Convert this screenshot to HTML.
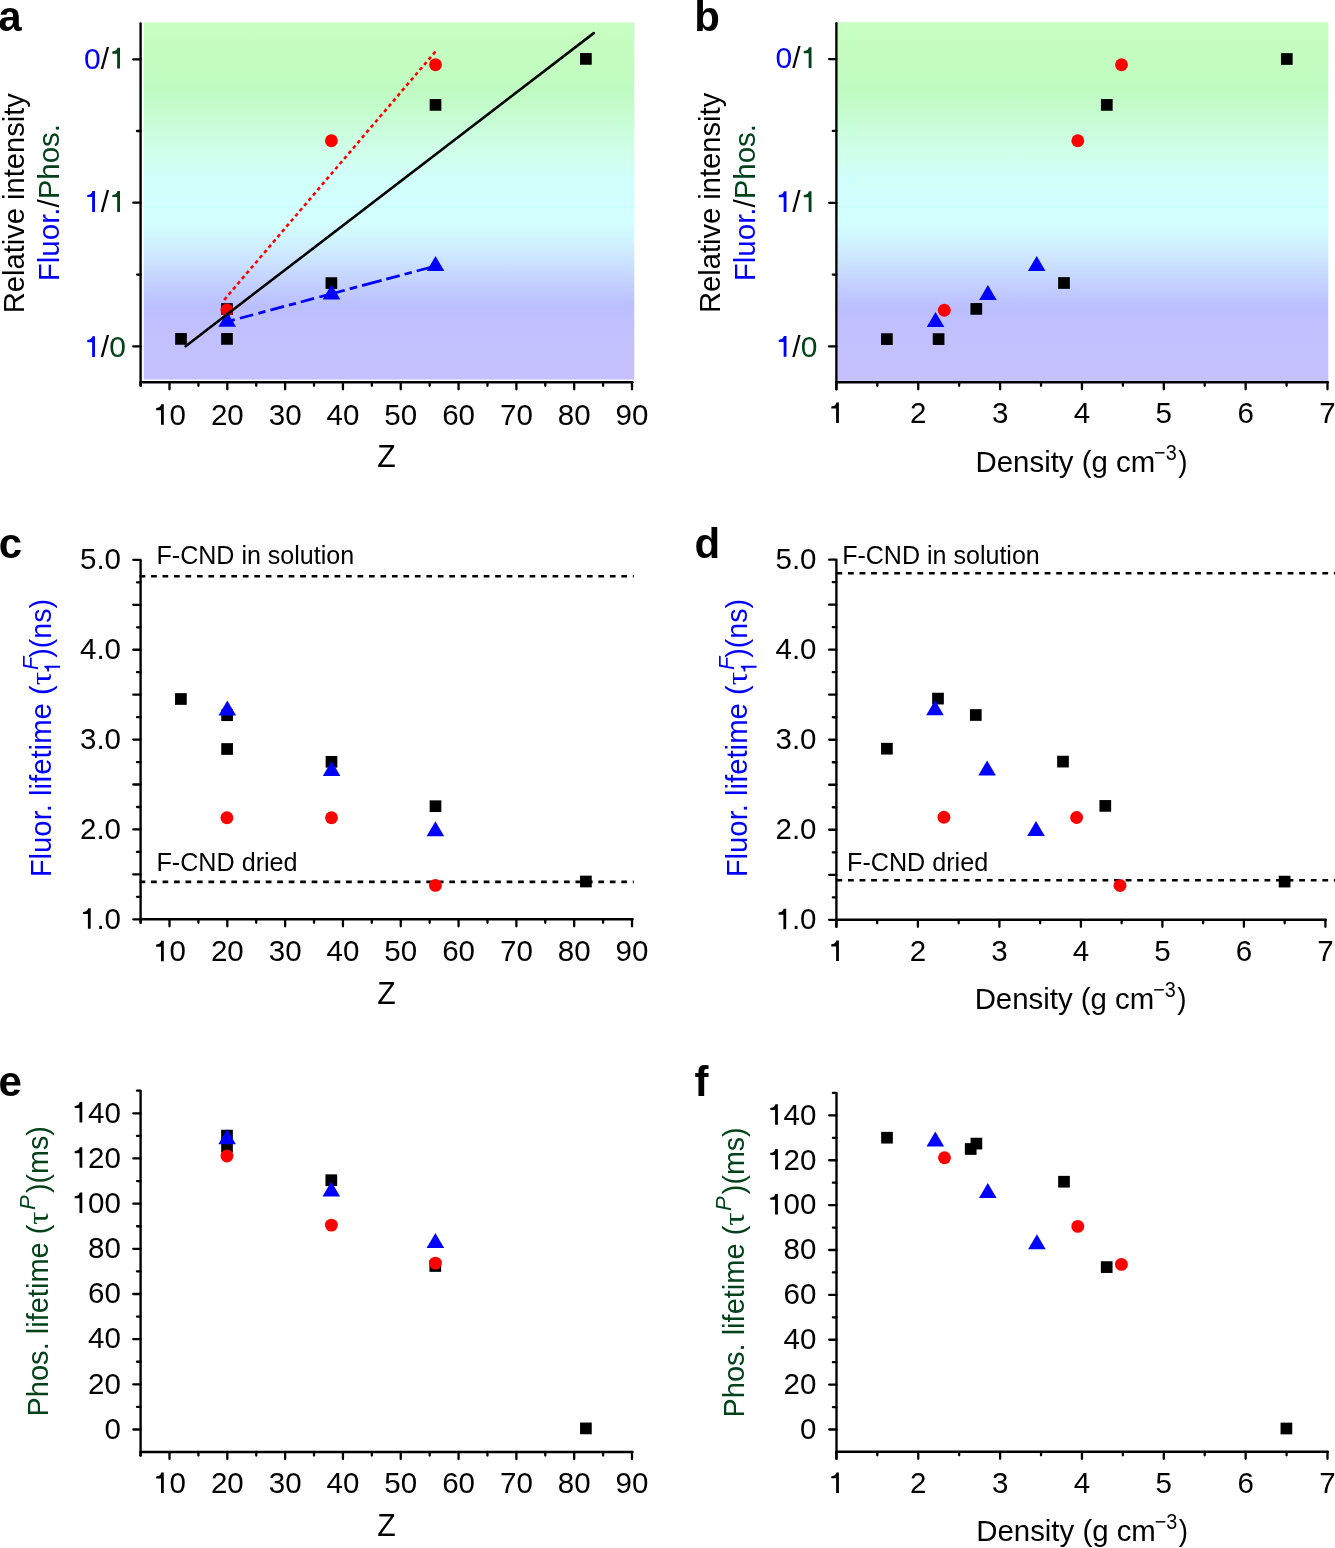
<!DOCTYPE html>
<html><head><meta charset="utf-8"><title>Figure</title><style>
html,body{margin:0;padding:0;background:#fff;width:1335px;height:1548px;overflow:hidden;}
svg{display:block;will-change:transform;}
</style></head><body>
<svg width="1335" height="1548" viewBox="0 0 1335 1548" style="font-family:'Liberation Sans', sans-serif">
<rect width="1335" height="1548" fill="#fff"/>
<defs><linearGradient id="g" x1="0" y1="0" x2="0" y2="1"><stop offset="0.0000" stop-color="#c8fec2"/>
<stop offset="0.0941" stop-color="#c4fdc0"/>
<stop offset="0.1892" stop-color="#bffbc1"/>
<stop offset="0.2396" stop-color="#c4fccc"/>
<stop offset="0.3124" stop-color="#cbfedf"/>
<stop offset="0.3572" stop-color="#d0ffe9"/>
<stop offset="0.4244" stop-color="#d1fff8"/>
<stop offset="0.5140" stop-color="#d2ffff"/>
<stop offset="0.5588" stop-color="#d4ffff"/>
<stop offset="0.6092" stop-color="#d0f4ff"/>
<stop offset="0.6652" stop-color="#cce4ff"/>
<stop offset="0.7352" stop-color="#c3cfff"/>
<stop offset="0.7940" stop-color="#bbbffe"/>
<stop offset="0.8611" stop-color="#c2c0fe"/>
<stop offset="1.0000" stop-color="#c5c1fe"/></linearGradient></defs>
<rect x="143.7" y="22.4" width="490.6" height="357.2" fill="url(#g)"/>
<rect x="837.6" y="22.2" width="490.7" height="358.7" fill="url(#g)"/>
<rect x="143.7" y="205.9" width="490.6" height="1.9" fill="#c9fdfb"/>
<rect x="837.6" y="205.9" width="490.7" height="1.9" fill="#c9fdfb"/>
<line x1="140.60" y1="23.50" x2="140.60" y2="385.80" stroke="#000" stroke-width="2.4" stroke-linecap="round"/>
<line x1="140.60" y1="382.30" x2="632.50" y2="382.30" stroke="#000" stroke-width="2.4" stroke-linecap="round"/>
<line x1="133.30" y1="59.30" x2="140.60" y2="59.30" stroke="#000" stroke-width="2.3" stroke-linecap="round"/>
<line x1="133.30" y1="202.70" x2="140.60" y2="202.70" stroke="#000" stroke-width="2.3" stroke-linecap="round"/>
<line x1="133.30" y1="346.40" x2="140.60" y2="346.40" stroke="#000" stroke-width="2.3" stroke-linecap="round"/>
<line x1="137.00" y1="131.00" x2="140.60" y2="131.00" stroke="#000" stroke-width="2.3" stroke-linecap="round"/>
<line x1="137.00" y1="274.60" x2="140.60" y2="274.60" stroke="#000" stroke-width="2.3" stroke-linecap="round"/>
<line x1="169.50" y1="382.30" x2="169.50" y2="389.30" stroke="#000" stroke-width="2.3" stroke-linecap="round"/>
<line x1="227.31" y1="382.30" x2="227.31" y2="389.30" stroke="#000" stroke-width="2.3" stroke-linecap="round"/>
<line x1="285.12" y1="382.30" x2="285.12" y2="389.30" stroke="#000" stroke-width="2.3" stroke-linecap="round"/>
<line x1="342.94" y1="382.30" x2="342.94" y2="389.30" stroke="#000" stroke-width="2.3" stroke-linecap="round"/>
<line x1="400.75" y1="382.30" x2="400.75" y2="389.30" stroke="#000" stroke-width="2.3" stroke-linecap="round"/>
<line x1="458.56" y1="382.30" x2="458.56" y2="389.30" stroke="#000" stroke-width="2.3" stroke-linecap="round"/>
<line x1="516.38" y1="382.30" x2="516.38" y2="389.30" stroke="#000" stroke-width="2.3" stroke-linecap="round"/>
<line x1="574.19" y1="382.30" x2="574.19" y2="389.30" stroke="#000" stroke-width="2.3" stroke-linecap="round"/>
<line x1="632.00" y1="382.30" x2="632.00" y2="389.30" stroke="#000" stroke-width="2.3" stroke-linecap="round"/>
<line x1="140.59" y1="382.30" x2="140.59" y2="385.80" stroke="#000" stroke-width="2.3" stroke-linecap="round"/>
<line x1="198.41" y1="382.30" x2="198.41" y2="385.80" stroke="#000" stroke-width="2.3" stroke-linecap="round"/>
<line x1="256.22" y1="382.30" x2="256.22" y2="385.80" stroke="#000" stroke-width="2.3" stroke-linecap="round"/>
<line x1="314.03" y1="382.30" x2="314.03" y2="385.80" stroke="#000" stroke-width="2.3" stroke-linecap="round"/>
<line x1="371.84" y1="382.30" x2="371.84" y2="385.80" stroke="#000" stroke-width="2.3" stroke-linecap="round"/>
<line x1="429.66" y1="382.30" x2="429.66" y2="385.80" stroke="#000" stroke-width="2.3" stroke-linecap="round"/>
<line x1="487.47" y1="382.30" x2="487.47" y2="385.80" stroke="#000" stroke-width="2.3" stroke-linecap="round"/>
<line x1="545.28" y1="382.30" x2="545.28" y2="385.80" stroke="#000" stroke-width="2.3" stroke-linecap="round"/>
<line x1="603.09" y1="382.30" x2="603.09" y2="385.80" stroke="#000" stroke-width="2.3" stroke-linecap="round"/>
<text x="153.09" y="424.80" font-size="29.5"><tspan fill="#000">&#8199;</tspan><tspan fill="#000">0</tspan></text>
<path d="M363 0 L268 0 L268 495 L105 495 L105 566 C170 570 215 585 245 625 C262 648 272 672 276 695 L363 695 Z" transform="translate(153.09,424.80) scale(0.02950,-0.02950)" fill="#000"/>
<text x="210.91" y="424.80" font-size="29.5"><tspan fill="#000">2</tspan><tspan fill="#000">0</tspan></text>
<text x="268.72" y="424.80" font-size="29.5"><tspan fill="#000">3</tspan><tspan fill="#000">0</tspan></text>
<text x="326.53" y="424.80" font-size="29.5"><tspan fill="#000">4</tspan><tspan fill="#000">0</tspan></text>
<text x="384.34" y="424.80" font-size="29.5"><tspan fill="#000">5</tspan><tspan fill="#000">0</tspan></text>
<text x="442.16" y="424.80" font-size="29.5"><tspan fill="#000">6</tspan><tspan fill="#000">0</tspan></text>
<text x="499.97" y="424.80" font-size="29.5"><tspan fill="#000">7</tspan><tspan fill="#000">0</tspan></text>
<text x="557.78" y="424.80" font-size="29.5"><tspan fill="#000">8</tspan><tspan fill="#000">0</tspan></text>
<text x="615.59" y="424.80" font-size="29.5"><tspan fill="#000">9</tspan><tspan fill="#000">0</tspan></text>
<text x="377.21" y="466.70" font-size="30.5" fill="#000" font-weight="normal" font-style="normal" font-family="Liberation Sans" textLength="18.47" lengthAdjust="spacingAndGlyphs" >Z</text>
<text x="84.10" y="68.60" font-size="30"><tspan fill="#0000ff">0</tspan><tspan fill="#000">/</tspan><tspan fill="#01421a">&#8199;</tspan></text>
<path d="M363 0 L268 0 L268 495 L105 495 L105 566 C170 570 215 585 245 625 C262 648 272 672 276 695 L363 695 Z" transform="translate(109.12,68.60) scale(0.03000,-0.03000)" fill="#01421a"/>
<text x="84.10" y="211.90" font-size="30"><tspan fill="#0000ff">&#8199;</tspan><tspan fill="#000">/</tspan><tspan fill="#01421a">&#8199;</tspan></text>
<path d="M363 0 L268 0 L268 495 L105 495 L105 566 C170 570 215 585 245 625 C262 648 272 672 276 695 L363 695 Z" transform="translate(84.10,211.90) scale(0.03000,-0.03000)" fill="#0000ff"/>
<path d="M363 0 L268 0 L268 495 L105 495 L105 566 C170 570 215 585 245 625 C262 648 272 672 276 695 L363 695 Z" transform="translate(109.12,211.90) scale(0.03000,-0.03000)" fill="#01421a"/>
<text x="84.10" y="357.00" font-size="30"><tspan fill="#0000ff">&#8199;</tspan><tspan fill="#000">/</tspan><tspan fill="#01421a">0</tspan></text>
<path d="M363 0 L268 0 L268 495 L105 495 L105 566 C170 570 215 585 245 625 C262 648 272 672 276 695 L363 695 Z" transform="translate(84.10,357.00) scale(0.03000,-0.03000)" fill="#0000ff"/>
<text transform="translate(23.90,313.23) rotate(-90)" x="0" y="0" font-size="30" fill="#000" font-weight="normal" font-style="normal" font-family="Liberation Sans" textLength="220.15" lengthAdjust="spacingAndGlyphs" >Relative intensity</text>
<text transform="translate(59.00,281.16) rotate(-90) scale(0.9822,1)" font-size="30"><tspan fill="#0000ff">Fluor.</tspan><tspan fill="#000">/</tspan><tspan fill="#01421a">Phos.</tspan></text>
<line x1="224.20" y1="299.80" x2="435.40" y2="51.60" stroke="#ff0000" stroke-width="2.6" stroke-dasharray="3.6 3.257"/>
<line x1="227.00" y1="321.70" x2="234.70" y2="319.64" stroke="#0000ff" stroke-width="2.8" />
<line x1="239.90" y1="318.25" x2="253.10" y2="314.73" stroke="#0000ff" stroke-width="2.8" />
<line x1="258.40" y1="313.31" x2="265.40" y2="311.44" stroke="#0000ff" stroke-width="2.8" />
<line x1="270.40" y1="310.11" x2="284.00" y2="306.47" stroke="#0000ff" stroke-width="2.8" />
<line x1="288.90" y1="305.16" x2="295.90" y2="303.29" stroke="#0000ff" stroke-width="2.8" />
<line x1="300.80" y1="301.98" x2="314.00" y2="298.46" stroke="#0000ff" stroke-width="2.8" />
<line x1="319.40" y1="297.02" x2="344.70" y2="290.26" stroke="#0000ff" stroke-width="2.8" />
<line x1="349.70" y1="288.92" x2="357.10" y2="286.94" stroke="#0000ff" stroke-width="2.8" />
<line x1="362.00" y1="285.64" x2="381.60" y2="280.40" stroke="#0000ff" stroke-width="2.8" />
<line x1="386.30" y1="279.14" x2="399.70" y2="275.56" stroke="#0000ff" stroke-width="2.8" />
<line x1="404.60" y1="274.25" x2="411.80" y2="272.33" stroke="#0000ff" stroke-width="2.8" />
<line x1="416.70" y1="271.02" x2="435.50" y2="266.00" stroke="#0000ff" stroke-width="2.8" />
<rect x="175.15" y="333.05" width="11.7" height="11.7" fill="#000"/>
<rect x="221.15" y="333.05" width="11.7" height="11.7" fill="#000"/>
<rect x="221.15" y="303.15" width="11.7" height="11.7" fill="#000"/>
<rect x="325.55" y="277.25" width="11.7" height="11.7" fill="#000"/>
<rect x="429.65" y="99.05" width="11.7" height="11.7" fill="#000"/>
<rect x="580.05" y="53.05" width="11.7" height="11.7" fill="#000"/>
<circle cx="226.90" cy="310.00" r="6.45" fill="#ff0000"/>
<circle cx="331.40" cy="140.70" r="6.45" fill="#ff0000"/>
<circle cx="435.50" cy="64.70" r="6.45" fill="#ff0000"/>
<path d="M227.20 311.70 L236.00 326.70 L218.40 326.70 Z" fill="#0000ff"/>
<path d="M331.50 284.50 L340.30 299.50 L322.70 299.50 Z" fill="#0000ff"/>
<path d="M435.50 256.00 L444.30 271.00 L426.70 271.00 Z" fill="#0000ff"/>
<line x1="185.60" y1="346.20" x2="593.80" y2="33.10" stroke="#000" stroke-width="2.6" stroke-linecap="round"/>
<line x1="836.40" y1="23.30" x2="836.40" y2="389.30" stroke="#000" stroke-width="2.4" stroke-linecap="round"/>
<line x1="836.40" y1="382.30" x2="1327.80" y2="382.30" stroke="#000" stroke-width="2.4" stroke-linecap="round"/>
<line x1="829.10" y1="59.10" x2="836.40" y2="59.10" stroke="#000" stroke-width="2.3" stroke-linecap="round"/>
<line x1="829.10" y1="202.80" x2="836.40" y2="202.80" stroke="#000" stroke-width="2.3" stroke-linecap="round"/>
<line x1="829.10" y1="346.40" x2="836.40" y2="346.40" stroke="#000" stroke-width="2.3" stroke-linecap="round"/>
<line x1="832.80" y1="130.90" x2="836.40" y2="130.90" stroke="#000" stroke-width="2.3" stroke-linecap="round"/>
<line x1="832.80" y1="274.60" x2="836.40" y2="274.60" stroke="#000" stroke-width="2.3" stroke-linecap="round"/>
<line x1="836.40" y1="382.30" x2="836.40" y2="389.30" stroke="#000" stroke-width="2.3" stroke-linecap="round"/>
<line x1="918.25" y1="382.30" x2="918.25" y2="389.30" stroke="#000" stroke-width="2.3" stroke-linecap="round"/>
<line x1="1000.10" y1="382.30" x2="1000.10" y2="389.30" stroke="#000" stroke-width="2.3" stroke-linecap="round"/>
<line x1="1081.95" y1="382.30" x2="1081.95" y2="389.30" stroke="#000" stroke-width="2.3" stroke-linecap="round"/>
<line x1="1163.80" y1="382.30" x2="1163.80" y2="389.30" stroke="#000" stroke-width="2.3" stroke-linecap="round"/>
<line x1="1245.65" y1="382.30" x2="1245.65" y2="389.30" stroke="#000" stroke-width="2.3" stroke-linecap="round"/>
<line x1="1327.50" y1="382.30" x2="1327.50" y2="389.30" stroke="#000" stroke-width="2.3" stroke-linecap="round"/>
<line x1="877.32" y1="382.30" x2="877.32" y2="385.80" stroke="#000" stroke-width="2.3" stroke-linecap="round"/>
<line x1="959.17" y1="382.30" x2="959.17" y2="385.80" stroke="#000" stroke-width="2.3" stroke-linecap="round"/>
<line x1="1041.03" y1="382.30" x2="1041.03" y2="385.80" stroke="#000" stroke-width="2.3" stroke-linecap="round"/>
<line x1="1122.88" y1="382.30" x2="1122.88" y2="385.80" stroke="#000" stroke-width="2.3" stroke-linecap="round"/>
<line x1="1204.72" y1="382.30" x2="1204.72" y2="385.80" stroke="#000" stroke-width="2.3" stroke-linecap="round"/>
<line x1="1286.57" y1="382.30" x2="1286.57" y2="385.80" stroke="#000" stroke-width="2.3" stroke-linecap="round"/>
<text x="828.20" y="423.10" font-size="29.5"><tspan fill="#000">&#8199;</tspan></text>
<path d="M363 0 L268 0 L268 495 L105 495 L105 566 C170 570 215 585 245 625 C262 648 272 672 276 695 L363 695 Z" transform="translate(828.20,423.10) scale(0.02950,-0.02950)" fill="#000"/>
<text x="910.05" y="423.10" font-size="29.5"><tspan fill="#000">2</tspan></text>
<text x="991.90" y="423.10" font-size="29.5"><tspan fill="#000">3</tspan></text>
<text x="1073.75" y="423.10" font-size="29.5"><tspan fill="#000">4</tspan></text>
<text x="1155.60" y="423.10" font-size="29.5"><tspan fill="#000">5</tspan></text>
<text x="1237.45" y="423.10" font-size="29.5"><tspan fill="#000">6</tspan></text>
<text x="1319.30" y="423.10" font-size="29.5"><tspan fill="#000">7</tspan></text>
<text x="775.60" y="68.00" font-size="30"><tspan fill="#0000ff">0</tspan><tspan fill="#000">/</tspan><tspan fill="#01421a">&#8199;</tspan></text>
<path d="M363 0 L268 0 L268 495 L105 495 L105 566 C170 570 215 585 245 625 C262 648 272 672 276 695 L363 695 Z" transform="translate(800.62,68.00) scale(0.03000,-0.03000)" fill="#01421a"/>
<text x="775.60" y="212.00" font-size="30"><tspan fill="#0000ff">&#8199;</tspan><tspan fill="#000">/</tspan><tspan fill="#01421a">&#8199;</tspan></text>
<path d="M363 0 L268 0 L268 495 L105 495 L105 566 C170 570 215 585 245 625 C262 648 272 672 276 695 L363 695 Z" transform="translate(775.60,212.00) scale(0.03000,-0.03000)" fill="#0000ff"/>
<path d="M363 0 L268 0 L268 495 L105 495 L105 566 C170 570 215 585 245 625 C262 648 272 672 276 695 L363 695 Z" transform="translate(800.62,212.00) scale(0.03000,-0.03000)" fill="#01421a"/>
<text x="775.60" y="356.80" font-size="30"><tspan fill="#0000ff">&#8199;</tspan><tspan fill="#000">/</tspan><tspan fill="#01421a">0</tspan></text>
<path d="M363 0 L268 0 L268 495 L105 495 L105 566 C170 570 215 585 245 625 C262 648 272 672 276 695 L363 695 Z" transform="translate(775.60,356.80) scale(0.03000,-0.03000)" fill="#0000ff"/>
<text transform="translate(719.90,313.03) rotate(-90)" x="0" y="0" font-size="30" fill="#000" font-weight="normal" font-style="normal" font-family="Liberation Sans" textLength="220.25" lengthAdjust="spacingAndGlyphs" >Relative intensity</text>
<text transform="translate(754.90,281.16) rotate(-90) scale(0.9822,1)" font-size="30"><tspan fill="#0000ff">Fluor.</tspan><tspan fill="#000">/</tspan><tspan fill="#01421a">Phos.</tspan></text>
<text x="975.55" y="472.20" font-size="30" fill="#000" font-weight="normal" font-style="normal" font-family="Liberation Sans" textLength="179.58" lengthAdjust="spacingAndGlyphs" >Density (g cm</text>
<text x="1154.08" y="460.30" font-size="21.5" fill="#000" font-weight="normal" font-style="normal" font-family="Liberation Sans" textLength="22.55" lengthAdjust="spacingAndGlyphs" >−3</text>
<text x="1178.17" y="472.20" font-size="30" fill="#000" font-weight="normal" font-style="normal" font-family="Liberation Sans" textLength="9.28" lengthAdjust="spacingAndGlyphs" >)</text>
<rect x="881.05" y="333.25" width="11.7" height="11.7" fill="#000"/>
<rect x="932.75" y="333.25" width="11.7" height="11.7" fill="#000"/>
<rect x="970.45" y="303.05" width="11.7" height="11.7" fill="#000"/>
<rect x="1058.15" y="277.15" width="11.7" height="11.7" fill="#000"/>
<rect x="1100.95" y="99.05" width="11.7" height="11.7" fill="#000"/>
<rect x="1280.95" y="53.15" width="11.7" height="11.7" fill="#000"/>
<circle cx="944.30" cy="310.20" r="6.45" fill="#ff0000"/>
<circle cx="1077.80" cy="140.80" r="6.45" fill="#ff0000"/>
<circle cx="1121.50" cy="64.70" r="6.45" fill="#ff0000"/>
<path d="M935.50 312.00 L944.30 327.00 L926.70 327.00 Z" fill="#0000ff"/>
<path d="M987.90 284.90 L996.70 299.90 L979.10 299.90 Z" fill="#0000ff"/>
<path d="M1036.70 256.00 L1045.50 271.00 L1027.90 271.00 Z" fill="#0000ff"/>
<line x1="140.60" y1="561.00" x2="140.60" y2="922.80" stroke="#000" stroke-width="2.4" stroke-linecap="round"/>
<line x1="140.60" y1="919.30" x2="632.50" y2="919.30" stroke="#000" stroke-width="2.4" stroke-linecap="round"/>
<line x1="133.30" y1="919.30" x2="140.60" y2="919.30" stroke="#000" stroke-width="2.3" stroke-linecap="round"/>
<line x1="133.30" y1="874.38" x2="140.60" y2="874.38" stroke="#000" stroke-width="2.3" stroke-linecap="round"/>
<line x1="133.30" y1="829.45" x2="140.60" y2="829.45" stroke="#000" stroke-width="2.3" stroke-linecap="round"/>
<line x1="133.30" y1="784.52" x2="140.60" y2="784.52" stroke="#000" stroke-width="2.3" stroke-linecap="round"/>
<line x1="133.30" y1="739.60" x2="140.60" y2="739.60" stroke="#000" stroke-width="2.3" stroke-linecap="round"/>
<line x1="133.30" y1="694.67" x2="140.60" y2="694.67" stroke="#000" stroke-width="2.3" stroke-linecap="round"/>
<line x1="133.30" y1="649.75" x2="140.60" y2="649.75" stroke="#000" stroke-width="2.3" stroke-linecap="round"/>
<line x1="133.30" y1="604.83" x2="140.60" y2="604.83" stroke="#000" stroke-width="2.3" stroke-linecap="round"/>
<line x1="133.30" y1="559.90" x2="140.60" y2="559.90" stroke="#000" stroke-width="2.3" stroke-linecap="round"/>
<line x1="137.00" y1="896.84" x2="140.60" y2="896.84" stroke="#000" stroke-width="2.3" stroke-linecap="round"/>
<line x1="137.00" y1="851.91" x2="140.60" y2="851.91" stroke="#000" stroke-width="2.3" stroke-linecap="round"/>
<line x1="137.00" y1="806.99" x2="140.60" y2="806.99" stroke="#000" stroke-width="2.3" stroke-linecap="round"/>
<line x1="137.00" y1="762.06" x2="140.60" y2="762.06" stroke="#000" stroke-width="2.3" stroke-linecap="round"/>
<line x1="137.00" y1="717.14" x2="140.60" y2="717.14" stroke="#000" stroke-width="2.3" stroke-linecap="round"/>
<line x1="137.00" y1="672.21" x2="140.60" y2="672.21" stroke="#000" stroke-width="2.3" stroke-linecap="round"/>
<line x1="137.00" y1="627.29" x2="140.60" y2="627.29" stroke="#000" stroke-width="2.3" stroke-linecap="round"/>
<line x1="137.00" y1="582.36" x2="140.60" y2="582.36" stroke="#000" stroke-width="2.3" stroke-linecap="round"/>
<line x1="169.50" y1="919.30" x2="169.50" y2="926.30" stroke="#000" stroke-width="2.3" stroke-linecap="round"/>
<line x1="227.31" y1="919.30" x2="227.31" y2="926.30" stroke="#000" stroke-width="2.3" stroke-linecap="round"/>
<line x1="285.12" y1="919.30" x2="285.12" y2="926.30" stroke="#000" stroke-width="2.3" stroke-linecap="round"/>
<line x1="342.94" y1="919.30" x2="342.94" y2="926.30" stroke="#000" stroke-width="2.3" stroke-linecap="round"/>
<line x1="400.75" y1="919.30" x2="400.75" y2="926.30" stroke="#000" stroke-width="2.3" stroke-linecap="round"/>
<line x1="458.56" y1="919.30" x2="458.56" y2="926.30" stroke="#000" stroke-width="2.3" stroke-linecap="round"/>
<line x1="516.38" y1="919.30" x2="516.38" y2="926.30" stroke="#000" stroke-width="2.3" stroke-linecap="round"/>
<line x1="574.19" y1="919.30" x2="574.19" y2="926.30" stroke="#000" stroke-width="2.3" stroke-linecap="round"/>
<line x1="632.00" y1="919.30" x2="632.00" y2="926.30" stroke="#000" stroke-width="2.3" stroke-linecap="round"/>
<line x1="140.59" y1="919.30" x2="140.59" y2="922.80" stroke="#000" stroke-width="2.3" stroke-linecap="round"/>
<line x1="198.41" y1="919.30" x2="198.41" y2="922.80" stroke="#000" stroke-width="2.3" stroke-linecap="round"/>
<line x1="256.22" y1="919.30" x2="256.22" y2="922.80" stroke="#000" stroke-width="2.3" stroke-linecap="round"/>
<line x1="314.03" y1="919.30" x2="314.03" y2="922.80" stroke="#000" stroke-width="2.3" stroke-linecap="round"/>
<line x1="371.84" y1="919.30" x2="371.84" y2="922.80" stroke="#000" stroke-width="2.3" stroke-linecap="round"/>
<line x1="429.66" y1="919.30" x2="429.66" y2="922.80" stroke="#000" stroke-width="2.3" stroke-linecap="round"/>
<line x1="487.47" y1="919.30" x2="487.47" y2="922.80" stroke="#000" stroke-width="2.3" stroke-linecap="round"/>
<line x1="545.28" y1="919.30" x2="545.28" y2="922.80" stroke="#000" stroke-width="2.3" stroke-linecap="round"/>
<line x1="603.09" y1="919.30" x2="603.09" y2="922.80" stroke="#000" stroke-width="2.3" stroke-linecap="round"/>
<text x="153.09" y="961.30" font-size="29.5"><tspan fill="#000">&#8199;</tspan><tspan fill="#000">0</tspan></text>
<path d="M363 0 L268 0 L268 495 L105 495 L105 566 C170 570 215 585 245 625 C262 648 272 672 276 695 L363 695 Z" transform="translate(153.09,961.30) scale(0.02950,-0.02950)" fill="#000"/>
<text x="210.91" y="961.30" font-size="29.5"><tspan fill="#000">2</tspan><tspan fill="#000">0</tspan></text>
<text x="268.72" y="961.30" font-size="29.5"><tspan fill="#000">3</tspan><tspan fill="#000">0</tspan></text>
<text x="326.53" y="961.30" font-size="29.5"><tspan fill="#000">4</tspan><tspan fill="#000">0</tspan></text>
<text x="384.34" y="961.30" font-size="29.5"><tspan fill="#000">5</tspan><tspan fill="#000">0</tspan></text>
<text x="442.16" y="961.30" font-size="29.5"><tspan fill="#000">6</tspan><tspan fill="#000">0</tspan></text>
<text x="499.97" y="961.30" font-size="29.5"><tspan fill="#000">7</tspan><tspan fill="#000">0</tspan></text>
<text x="557.78" y="961.30" font-size="29.5"><tspan fill="#000">8</tspan><tspan fill="#000">0</tspan></text>
<text x="615.59" y="961.30" font-size="29.5"><tspan fill="#000">9</tspan><tspan fill="#000">0</tspan></text>
<text x="377.21" y="1003.50" font-size="30.5" fill="#000" font-weight="normal" font-style="normal" font-family="Liberation Sans" textLength="18.47" lengthAdjust="spacingAndGlyphs" >Z</text>
<text x="79.99" y="928.70" font-size="29.5"><tspan fill="#000">&#8199;</tspan><tspan fill="#000">.</tspan><tspan fill="#000">0</tspan></text>
<path d="M363 0 L268 0 L268 495 L105 495 L105 566 C170 570 215 585 245 625 C262 648 272 672 276 695 L363 695 Z" transform="translate(79.99,928.70) scale(0.02950,-0.02950)" fill="#000"/>
<text x="79.99" y="838.85" font-size="29.5"><tspan fill="#000">2</tspan><tspan fill="#000">.</tspan><tspan fill="#000">0</tspan></text>
<text x="79.99" y="749.00" font-size="29.5"><tspan fill="#000">3</tspan><tspan fill="#000">.</tspan><tspan fill="#000">0</tspan></text>
<text x="79.99" y="659.15" font-size="29.5"><tspan fill="#000">4</tspan><tspan fill="#000">.</tspan><tspan fill="#000">0</tspan></text>
<text x="79.99" y="569.30" font-size="29.5"><tspan fill="#000">5</tspan><tspan fill="#000">.</tspan><tspan fill="#000">0</tspan></text>
<line x1="139.60" y1="576.30" x2="633.80" y2="576.30" stroke="#000" stroke-width="2.6" stroke-dasharray="5.7 5.77"/>
<line x1="139.60" y1="881.90" x2="633.80" y2="881.90" stroke="#000" stroke-width="2.6" stroke-dasharray="5.7 5.77"/>
<text x="156.53" y="564.40" font-size="26" fill="#000" font-weight="normal" font-style="normal" font-family="Liberation Sans" textLength="197.68" lengthAdjust="spacingAndGlyphs" >F-CND in solution</text>
<text x="156.42" y="871.00" font-size="26" fill="#000" font-weight="normal" font-style="normal" font-family="Liberation Sans" textLength="141.18" lengthAdjust="spacingAndGlyphs" >F-CND dried</text>
<text transform="translate(50.80,877.34) rotate(-90)" x="0" y="0" font-size="30" fill="#0000ff" font-weight="normal" font-style="normal" font-family="Liberation Sans" textLength="192.05" lengthAdjust="spacingAndGlyphs" >Fluor. lifetime (</text>
<text transform="translate(50.80,685.34) rotate(-90)" x="0" y="0" font-size="30" fill="#0000ff" font-weight="normal" font-style="normal" font-family="Liberation Serif" textLength="13.57" lengthAdjust="spacingAndGlyphs" >τ</text>
<path d="M363 0 L268 0 L268 495 L105 495 L105 566 C170 570 215 585 245 625 C262 648 272 672 276 695 L363 695 Z" transform="translate(60.10,673.80) rotate(-90) scale(0.02250,-0.02250)" fill="#0000ff"/>
<text transform="translate(37.60,670.05) rotate(-90)" x="0" y="0" font-size="21.5" fill="#0000ff" font-weight="normal" font-style="italic" font-family="Liberation Sans" textLength="13.19" lengthAdjust="spacingAndGlyphs" >F</text>
<text transform="translate(50.80,657.74) rotate(-90)" x="0" y="0" font-size="30" fill="#0000ff" font-weight="normal" font-style="normal" font-family="Liberation Sans" textLength="58.86" lengthAdjust="spacingAndGlyphs" >)(ns)</text>
<rect x="175.05" y="693.15" width="11.7" height="11.7" fill="#000"/>
<rect x="221.25" y="709.35" width="11.7" height="11.7" fill="#000"/>
<rect x="221.25" y="743.15" width="11.7" height="11.7" fill="#000"/>
<rect x="325.65" y="755.95" width="11.7" height="11.7" fill="#000"/>
<rect x="429.65" y="800.35" width="11.7" height="11.7" fill="#000"/>
<rect x="580.05" y="875.65" width="11.7" height="11.7" fill="#000"/>
<circle cx="226.90" cy="817.70" r="6.45" fill="#ff0000"/>
<circle cx="331.50" cy="817.70" r="6.45" fill="#ff0000"/>
<circle cx="435.40" cy="885.40" r="6.45" fill="#ff0000"/>
<path d="M227.30 700.40 L236.10 715.40 L218.50 715.40 Z" fill="#0000ff"/>
<path d="M331.60 761.00 L340.40 776.00 L322.80 776.00 Z" fill="#0000ff"/>
<path d="M435.40 821.30 L444.20 836.30 L426.60 836.30 Z" fill="#0000ff"/>
<line x1="836.40" y1="560.78" x2="836.40" y2="926.80" stroke="#000" stroke-width="2.4" stroke-linecap="round"/>
<line x1="836.40" y1="919.80" x2="1325.70" y2="919.80" stroke="#000" stroke-width="2.4" stroke-linecap="round"/>
<line x1="829.10" y1="919.80" x2="836.40" y2="919.80" stroke="#000" stroke-width="2.3" stroke-linecap="round"/>
<line x1="829.10" y1="874.78" x2="836.40" y2="874.78" stroke="#000" stroke-width="2.3" stroke-linecap="round"/>
<line x1="829.10" y1="829.77" x2="836.40" y2="829.77" stroke="#000" stroke-width="2.3" stroke-linecap="round"/>
<line x1="829.10" y1="784.75" x2="836.40" y2="784.75" stroke="#000" stroke-width="2.3" stroke-linecap="round"/>
<line x1="829.10" y1="739.74" x2="836.40" y2="739.74" stroke="#000" stroke-width="2.3" stroke-linecap="round"/>
<line x1="829.10" y1="694.72" x2="836.40" y2="694.72" stroke="#000" stroke-width="2.3" stroke-linecap="round"/>
<line x1="829.10" y1="649.71" x2="836.40" y2="649.71" stroke="#000" stroke-width="2.3" stroke-linecap="round"/>
<line x1="829.10" y1="604.69" x2="836.40" y2="604.69" stroke="#000" stroke-width="2.3" stroke-linecap="round"/>
<line x1="829.10" y1="559.68" x2="836.40" y2="559.68" stroke="#000" stroke-width="2.3" stroke-linecap="round"/>
<line x1="832.80" y1="897.29" x2="836.40" y2="897.29" stroke="#000" stroke-width="2.3" stroke-linecap="round"/>
<line x1="832.80" y1="852.28" x2="836.40" y2="852.28" stroke="#000" stroke-width="2.3" stroke-linecap="round"/>
<line x1="832.80" y1="807.26" x2="836.40" y2="807.26" stroke="#000" stroke-width="2.3" stroke-linecap="round"/>
<line x1="832.80" y1="762.25" x2="836.40" y2="762.25" stroke="#000" stroke-width="2.3" stroke-linecap="round"/>
<line x1="832.80" y1="717.23" x2="836.40" y2="717.23" stroke="#000" stroke-width="2.3" stroke-linecap="round"/>
<line x1="832.80" y1="672.22" x2="836.40" y2="672.22" stroke="#000" stroke-width="2.3" stroke-linecap="round"/>
<line x1="832.80" y1="627.20" x2="836.40" y2="627.20" stroke="#000" stroke-width="2.3" stroke-linecap="round"/>
<line x1="832.80" y1="582.19" x2="836.40" y2="582.19" stroke="#000" stroke-width="2.3" stroke-linecap="round"/>
<line x1="836.40" y1="919.80" x2="836.40" y2="926.80" stroke="#000" stroke-width="2.3" stroke-linecap="round"/>
<line x1="917.90" y1="919.80" x2="917.90" y2="926.80" stroke="#000" stroke-width="2.3" stroke-linecap="round"/>
<line x1="999.40" y1="919.80" x2="999.40" y2="926.80" stroke="#000" stroke-width="2.3" stroke-linecap="round"/>
<line x1="1080.90" y1="919.80" x2="1080.90" y2="926.80" stroke="#000" stroke-width="2.3" stroke-linecap="round"/>
<line x1="1162.40" y1="919.80" x2="1162.40" y2="926.80" stroke="#000" stroke-width="2.3" stroke-linecap="round"/>
<line x1="1243.90" y1="919.80" x2="1243.90" y2="926.80" stroke="#000" stroke-width="2.3" stroke-linecap="round"/>
<line x1="1325.40" y1="919.80" x2="1325.40" y2="926.80" stroke="#000" stroke-width="2.3" stroke-linecap="round"/>
<line x1="877.15" y1="919.80" x2="877.15" y2="923.30" stroke="#000" stroke-width="2.3" stroke-linecap="round"/>
<line x1="958.65" y1="919.80" x2="958.65" y2="923.30" stroke="#000" stroke-width="2.3" stroke-linecap="round"/>
<line x1="1040.15" y1="919.80" x2="1040.15" y2="923.30" stroke="#000" stroke-width="2.3" stroke-linecap="round"/>
<line x1="1121.65" y1="919.80" x2="1121.65" y2="923.30" stroke="#000" stroke-width="2.3" stroke-linecap="round"/>
<line x1="1203.15" y1="919.80" x2="1203.15" y2="923.30" stroke="#000" stroke-width="2.3" stroke-linecap="round"/>
<line x1="1284.65" y1="919.80" x2="1284.65" y2="923.30" stroke="#000" stroke-width="2.3" stroke-linecap="round"/>
<text x="828.20" y="961.00" font-size="29.5"><tspan fill="#000">&#8199;</tspan></text>
<path d="M363 0 L268 0 L268 495 L105 495 L105 566 C170 570 215 585 245 625 C262 648 272 672 276 695 L363 695 Z" transform="translate(828.20,961.00) scale(0.02950,-0.02950)" fill="#000"/>
<text x="909.70" y="961.00" font-size="29.5"><tspan fill="#000">2</tspan></text>
<text x="991.20" y="961.00" font-size="29.5"><tspan fill="#000">3</tspan></text>
<text x="1072.70" y="961.00" font-size="29.5"><tspan fill="#000">4</tspan></text>
<text x="1154.20" y="961.00" font-size="29.5"><tspan fill="#000">5</tspan></text>
<text x="1235.70" y="961.00" font-size="29.5"><tspan fill="#000">6</tspan></text>
<text x="1317.20" y="961.00" font-size="29.5"><tspan fill="#000">7</tspan></text>
<text x="775.49" y="929.30" font-size="29.5"><tspan fill="#000">&#8199;</tspan><tspan fill="#000">.</tspan><tspan fill="#000">0</tspan></text>
<path d="M363 0 L268 0 L268 495 L105 495 L105 566 C170 570 215 585 245 625 C262 648 272 672 276 695 L363 695 Z" transform="translate(775.49,929.30) scale(0.02950,-0.02950)" fill="#000"/>
<text x="775.49" y="839.27" font-size="29.5"><tspan fill="#000">2</tspan><tspan fill="#000">.</tspan><tspan fill="#000">0</tspan></text>
<text x="775.49" y="749.24" font-size="29.5"><tspan fill="#000">3</tspan><tspan fill="#000">.</tspan><tspan fill="#000">0</tspan></text>
<text x="775.49" y="659.21" font-size="29.5"><tspan fill="#000">4</tspan><tspan fill="#000">.</tspan><tspan fill="#000">0</tspan></text>
<text x="775.49" y="569.18" font-size="29.5"><tspan fill="#000">5</tspan><tspan fill="#000">.</tspan><tspan fill="#000">0</tspan></text>
<line x1="836.40" y1="573.20" x2="1340.00" y2="573.20" stroke="#000" stroke-width="2.6" stroke-dasharray="5.8 5.77"/>
<line x1="836.40" y1="880.30" x2="1340.00" y2="880.30" stroke="#000" stroke-width="2.6" stroke-dasharray="5.8 5.77"/>
<text x="842.13" y="564.20" font-size="26" fill="#000" font-weight="normal" font-style="normal" font-family="Liberation Sans" textLength="197.68" lengthAdjust="spacingAndGlyphs" >F-CND in solution</text>
<text x="847.02" y="870.70" font-size="26" fill="#000" font-weight="normal" font-style="normal" font-family="Liberation Sans" textLength="141.18" lengthAdjust="spacingAndGlyphs" >F-CND dried</text>
<text x="974.65" y="1009.20" font-size="30" fill="#000" font-weight="normal" font-style="normal" font-family="Liberation Sans" textLength="179.58" lengthAdjust="spacingAndGlyphs" >Density (g cm</text>
<text x="1153.18" y="997.30" font-size="21.5" fill="#000" font-weight="normal" font-style="normal" font-family="Liberation Sans" textLength="22.55" lengthAdjust="spacingAndGlyphs" >−3</text>
<text x="1177.27" y="1009.20" font-size="30" fill="#000" font-weight="normal" font-style="normal" font-family="Liberation Sans" textLength="9.28" lengthAdjust="spacingAndGlyphs" >)</text>
<text transform="translate(747.20,877.34) rotate(-90)" x="0" y="0" font-size="30" fill="#0000ff" font-weight="normal" font-style="normal" font-family="Liberation Sans" textLength="192.05" lengthAdjust="spacingAndGlyphs" >Fluor. lifetime (</text>
<text transform="translate(747.20,685.34) rotate(-90)" x="0" y="0" font-size="30" fill="#0000ff" font-weight="normal" font-style="normal" font-family="Liberation Serif" textLength="13.57" lengthAdjust="spacingAndGlyphs" >τ</text>
<path d="M363 0 L268 0 L268 495 L105 495 L105 566 C170 570 215 585 245 625 C262 648 272 672 276 695 L363 695 Z" transform="translate(756.50,673.80) rotate(-90) scale(0.02250,-0.02250)" fill="#0000ff"/>
<text transform="translate(734.00,670.05) rotate(-90)" x="0" y="0" font-size="21.5" fill="#0000ff" font-weight="normal" font-style="italic" font-family="Liberation Sans" textLength="13.19" lengthAdjust="spacingAndGlyphs" >F</text>
<text transform="translate(747.20,657.74) rotate(-90)" x="0" y="0" font-size="30" fill="#0000ff" font-weight="normal" font-style="normal" font-family="Liberation Sans" textLength="58.86" lengthAdjust="spacingAndGlyphs" >)(ns)</text>
<rect x="881.05" y="742.85" width="11.7" height="11.7" fill="#000"/>
<rect x="932.15" y="692.75" width="11.7" height="11.7" fill="#000"/>
<rect x="969.95" y="709.15" width="11.7" height="11.7" fill="#000"/>
<rect x="1057.15" y="755.75" width="11.7" height="11.7" fill="#000"/>
<rect x="1099.45" y="800.05" width="11.7" height="11.7" fill="#000"/>
<rect x="1278.75" y="875.75" width="11.7" height="11.7" fill="#000"/>
<circle cx="943.90" cy="817.20" r="6.45" fill="#ff0000"/>
<circle cx="1076.60" cy="817.50" r="6.45" fill="#ff0000"/>
<circle cx="1120.00" cy="885.50" r="6.45" fill="#ff0000"/>
<path d="M935.00 700.20 L943.80 715.20 L926.20 715.20 Z" fill="#0000ff"/>
<path d="M987.10 760.40 L995.90 775.40 L978.30 775.40 Z" fill="#0000ff"/>
<path d="M1036.00 821.10 L1044.80 836.10 L1027.20 836.10 Z" fill="#0000ff"/>
<line x1="140.60" y1="1091.81" x2="140.60" y2="1455.50" stroke="#000" stroke-width="2.4" stroke-linecap="round"/>
<line x1="140.60" y1="1452.00" x2="632.50" y2="1452.00" stroke="#000" stroke-width="2.4" stroke-linecap="round"/>
<line x1="133.30" y1="1429.50" x2="140.60" y2="1429.50" stroke="#000" stroke-width="2.3" stroke-linecap="round"/>
<line x1="133.30" y1="1384.33" x2="140.60" y2="1384.33" stroke="#000" stroke-width="2.3" stroke-linecap="round"/>
<line x1="133.30" y1="1339.16" x2="140.60" y2="1339.16" stroke="#000" stroke-width="2.3" stroke-linecap="round"/>
<line x1="133.30" y1="1293.98" x2="140.60" y2="1293.98" stroke="#000" stroke-width="2.3" stroke-linecap="round"/>
<line x1="133.30" y1="1248.81" x2="140.60" y2="1248.81" stroke="#000" stroke-width="2.3" stroke-linecap="round"/>
<line x1="133.30" y1="1203.64" x2="140.60" y2="1203.64" stroke="#000" stroke-width="2.3" stroke-linecap="round"/>
<line x1="133.30" y1="1158.47" x2="140.60" y2="1158.47" stroke="#000" stroke-width="2.3" stroke-linecap="round"/>
<line x1="133.30" y1="1113.30" x2="140.60" y2="1113.30" stroke="#000" stroke-width="2.3" stroke-linecap="round"/>
<line x1="137.00" y1="1406.91" x2="140.60" y2="1406.91" stroke="#000" stroke-width="2.3" stroke-linecap="round"/>
<line x1="137.00" y1="1361.74" x2="140.60" y2="1361.74" stroke="#000" stroke-width="2.3" stroke-linecap="round"/>
<line x1="137.00" y1="1316.57" x2="140.60" y2="1316.57" stroke="#000" stroke-width="2.3" stroke-linecap="round"/>
<line x1="137.00" y1="1271.40" x2="140.60" y2="1271.40" stroke="#000" stroke-width="2.3" stroke-linecap="round"/>
<line x1="137.00" y1="1226.23" x2="140.60" y2="1226.23" stroke="#000" stroke-width="2.3" stroke-linecap="round"/>
<line x1="137.00" y1="1181.05" x2="140.60" y2="1181.05" stroke="#000" stroke-width="2.3" stroke-linecap="round"/>
<line x1="137.00" y1="1135.88" x2="140.60" y2="1135.88" stroke="#000" stroke-width="2.3" stroke-linecap="round"/>
<line x1="137.00" y1="1090.71" x2="140.60" y2="1090.71" stroke="#000" stroke-width="2.3" stroke-linecap="round"/>
<line x1="169.50" y1="1452.00" x2="169.50" y2="1459.00" stroke="#000" stroke-width="2.3" stroke-linecap="round"/>
<line x1="227.31" y1="1452.00" x2="227.31" y2="1459.00" stroke="#000" stroke-width="2.3" stroke-linecap="round"/>
<line x1="285.12" y1="1452.00" x2="285.12" y2="1459.00" stroke="#000" stroke-width="2.3" stroke-linecap="round"/>
<line x1="342.94" y1="1452.00" x2="342.94" y2="1459.00" stroke="#000" stroke-width="2.3" stroke-linecap="round"/>
<line x1="400.75" y1="1452.00" x2="400.75" y2="1459.00" stroke="#000" stroke-width="2.3" stroke-linecap="round"/>
<line x1="458.56" y1="1452.00" x2="458.56" y2="1459.00" stroke="#000" stroke-width="2.3" stroke-linecap="round"/>
<line x1="516.38" y1="1452.00" x2="516.38" y2="1459.00" stroke="#000" stroke-width="2.3" stroke-linecap="round"/>
<line x1="574.19" y1="1452.00" x2="574.19" y2="1459.00" stroke="#000" stroke-width="2.3" stroke-linecap="round"/>
<line x1="632.00" y1="1452.00" x2="632.00" y2="1459.00" stroke="#000" stroke-width="2.3" stroke-linecap="round"/>
<line x1="140.59" y1="1452.00" x2="140.59" y2="1455.50" stroke="#000" stroke-width="2.3" stroke-linecap="round"/>
<line x1="198.41" y1="1452.00" x2="198.41" y2="1455.50" stroke="#000" stroke-width="2.3" stroke-linecap="round"/>
<line x1="256.22" y1="1452.00" x2="256.22" y2="1455.50" stroke="#000" stroke-width="2.3" stroke-linecap="round"/>
<line x1="314.03" y1="1452.00" x2="314.03" y2="1455.50" stroke="#000" stroke-width="2.3" stroke-linecap="round"/>
<line x1="371.84" y1="1452.00" x2="371.84" y2="1455.50" stroke="#000" stroke-width="2.3" stroke-linecap="round"/>
<line x1="429.66" y1="1452.00" x2="429.66" y2="1455.50" stroke="#000" stroke-width="2.3" stroke-linecap="round"/>
<line x1="487.47" y1="1452.00" x2="487.47" y2="1455.50" stroke="#000" stroke-width="2.3" stroke-linecap="round"/>
<line x1="545.28" y1="1452.00" x2="545.28" y2="1455.50" stroke="#000" stroke-width="2.3" stroke-linecap="round"/>
<line x1="603.09" y1="1452.00" x2="603.09" y2="1455.50" stroke="#000" stroke-width="2.3" stroke-linecap="round"/>
<text x="153.09" y="1493.10" font-size="29.5"><tspan fill="#000">&#8199;</tspan><tspan fill="#000">0</tspan></text>
<path d="M363 0 L268 0 L268 495 L105 495 L105 566 C170 570 215 585 245 625 C262 648 272 672 276 695 L363 695 Z" transform="translate(153.09,1493.10) scale(0.02950,-0.02950)" fill="#000"/>
<text x="210.91" y="1493.10" font-size="29.5"><tspan fill="#000">2</tspan><tspan fill="#000">0</tspan></text>
<text x="268.72" y="1493.10" font-size="29.5"><tspan fill="#000">3</tspan><tspan fill="#000">0</tspan></text>
<text x="326.53" y="1493.10" font-size="29.5"><tspan fill="#000">4</tspan><tspan fill="#000">0</tspan></text>
<text x="384.34" y="1493.10" font-size="29.5"><tspan fill="#000">5</tspan><tspan fill="#000">0</tspan></text>
<text x="442.16" y="1493.10" font-size="29.5"><tspan fill="#000">6</tspan><tspan fill="#000">0</tspan></text>
<text x="499.97" y="1493.10" font-size="29.5"><tspan fill="#000">7</tspan><tspan fill="#000">0</tspan></text>
<text x="557.78" y="1493.10" font-size="29.5"><tspan fill="#000">8</tspan><tspan fill="#000">0</tspan></text>
<text x="615.59" y="1493.10" font-size="29.5"><tspan fill="#000">9</tspan><tspan fill="#000">0</tspan></text>
<text x="377.21" y="1535.80" font-size="30.5" fill="#000" font-weight="normal" font-style="normal" font-family="Liberation Sans" textLength="18.47" lengthAdjust="spacingAndGlyphs" >Z</text>
<text x="104.39" y="1438.80" font-size="29.5"><tspan fill="#000">0</tspan></text>
<text x="87.99" y="1393.63" font-size="29.5"><tspan fill="#000">2</tspan><tspan fill="#000">0</tspan></text>
<text x="87.99" y="1348.46" font-size="29.5"><tspan fill="#000">4</tspan><tspan fill="#000">0</tspan></text>
<text x="87.99" y="1303.28" font-size="29.5"><tspan fill="#000">6</tspan><tspan fill="#000">0</tspan></text>
<text x="87.99" y="1258.11" font-size="29.5"><tspan fill="#000">8</tspan><tspan fill="#000">0</tspan></text>
<text x="71.58" y="1212.94" font-size="29.5"><tspan fill="#000">&#8199;</tspan><tspan fill="#000">0</tspan><tspan fill="#000">0</tspan></text>
<path d="M363 0 L268 0 L268 495 L105 495 L105 566 C170 570 215 585 245 625 C262 648 272 672 276 695 L363 695 Z" transform="translate(71.58,1212.94) scale(0.02950,-0.02950)" fill="#000"/>
<text x="71.58" y="1167.77" font-size="29.5"><tspan fill="#000">&#8199;</tspan><tspan fill="#000">2</tspan><tspan fill="#000">0</tspan></text>
<path d="M363 0 L268 0 L268 495 L105 495 L105 566 C170 570 215 585 245 625 C262 648 272 672 276 695 L363 695 Z" transform="translate(71.58,1167.77) scale(0.02950,-0.02950)" fill="#000"/>
<text x="71.58" y="1122.60" font-size="29.5"><tspan fill="#000">&#8199;</tspan><tspan fill="#000">4</tspan><tspan fill="#000">0</tspan></text>
<path d="M363 0 L268 0 L268 495 L105 495 L105 566 C170 570 215 585 245 625 C262 648 272 672 276 695 L363 695 Z" transform="translate(71.58,1122.60) scale(0.02950,-0.02950)" fill="#000"/>
<text transform="translate(47.80,1416.52) rotate(-90)" x="0" y="0" font-size="30" fill="#01421a" font-weight="normal" font-style="normal" font-family="Liberation Sans" textLength="191.96" lengthAdjust="spacingAndGlyphs" >Phos. lifetime (</text>
<text transform="translate(47.80,1224.72) rotate(-90)" x="0" y="0" font-size="30" fill="#01421a" font-weight="normal" font-style="normal" font-family="Liberation Serif" textLength="13.24" lengthAdjust="spacingAndGlyphs" >τ</text>
<text transform="translate(35.00,1209.97) rotate(-90)" x="0" y="0" font-size="21.5" fill="#01421a" font-weight="normal" font-style="italic" font-family="Liberation Sans" textLength="14.77" lengthAdjust="spacingAndGlyphs" >P</text>
<text transform="translate(47.80,1193.04) rotate(-90)" x="0" y="0" font-size="30" fill="#01421a" font-weight="normal" font-style="normal" font-family="Liberation Sans" textLength="66.81" lengthAdjust="spacingAndGlyphs" >)(ms)</text>
<rect x="221.15" y="1140.95" width="11.7" height="11.7" fill="#000"/>
<rect x="221.15" y="1129.75" width="11.7" height="11.7" fill="#000"/>
<rect x="325.45" y="1174.35" width="11.7" height="11.7" fill="#000"/>
<rect x="429.45" y="1260.15" width="11.7" height="11.7" fill="#000"/>
<rect x="580.05" y="1422.55" width="11.7" height="11.7" fill="#000"/>
<path d="M227.10 1129.30 L235.90 1144.30 L218.30 1144.30 Z" fill="#0000ff"/>
<path d="M331.30 1181.60 L340.10 1196.60 L322.50 1196.60 Z" fill="#0000ff"/>
<path d="M435.40 1233.10 L444.20 1248.10 L426.60 1248.10 Z" fill="#0000ff"/>
<circle cx="227.00" cy="1156.00" r="6.45" fill="#ff0000"/>
<circle cx="331.40" cy="1225.10" r="6.45" fill="#ff0000"/>
<circle cx="435.40" cy="1263.10" r="6.45" fill="#ff0000"/>
<line x1="836.50" y1="1094.06" x2="836.50" y2="1458.80" stroke="#000" stroke-width="2.4" stroke-linecap="round"/>
<line x1="836.50" y1="1451.80" x2="1327.80" y2="1451.80" stroke="#000" stroke-width="2.4" stroke-linecap="round"/>
<line x1="829.20" y1="1429.50" x2="836.50" y2="1429.50" stroke="#000" stroke-width="2.3" stroke-linecap="round"/>
<line x1="829.20" y1="1384.63" x2="836.50" y2="1384.63" stroke="#000" stroke-width="2.3" stroke-linecap="round"/>
<line x1="829.20" y1="1339.76" x2="836.50" y2="1339.76" stroke="#000" stroke-width="2.3" stroke-linecap="round"/>
<line x1="829.20" y1="1294.88" x2="836.50" y2="1294.88" stroke="#000" stroke-width="2.3" stroke-linecap="round"/>
<line x1="829.20" y1="1250.01" x2="836.50" y2="1250.01" stroke="#000" stroke-width="2.3" stroke-linecap="round"/>
<line x1="829.20" y1="1205.14" x2="836.50" y2="1205.14" stroke="#000" stroke-width="2.3" stroke-linecap="round"/>
<line x1="829.20" y1="1160.27" x2="836.50" y2="1160.27" stroke="#000" stroke-width="2.3" stroke-linecap="round"/>
<line x1="829.20" y1="1115.40" x2="836.50" y2="1115.40" stroke="#000" stroke-width="2.3" stroke-linecap="round"/>
<line x1="832.90" y1="1407.06" x2="836.50" y2="1407.06" stroke="#000" stroke-width="2.3" stroke-linecap="round"/>
<line x1="832.90" y1="1362.19" x2="836.50" y2="1362.19" stroke="#000" stroke-width="2.3" stroke-linecap="round"/>
<line x1="832.90" y1="1317.32" x2="836.50" y2="1317.32" stroke="#000" stroke-width="2.3" stroke-linecap="round"/>
<line x1="832.90" y1="1272.45" x2="836.50" y2="1272.45" stroke="#000" stroke-width="2.3" stroke-linecap="round"/>
<line x1="832.90" y1="1227.58" x2="836.50" y2="1227.58" stroke="#000" stroke-width="2.3" stroke-linecap="round"/>
<line x1="832.90" y1="1182.70" x2="836.50" y2="1182.70" stroke="#000" stroke-width="2.3" stroke-linecap="round"/>
<line x1="832.90" y1="1137.83" x2="836.50" y2="1137.83" stroke="#000" stroke-width="2.3" stroke-linecap="round"/>
<line x1="832.90" y1="1092.96" x2="836.50" y2="1092.96" stroke="#000" stroke-width="2.3" stroke-linecap="round"/>
<line x1="836.40" y1="1451.80" x2="836.40" y2="1458.80" stroke="#000" stroke-width="2.3" stroke-linecap="round"/>
<line x1="918.25" y1="1451.80" x2="918.25" y2="1458.80" stroke="#000" stroke-width="2.3" stroke-linecap="round"/>
<line x1="1000.10" y1="1451.80" x2="1000.10" y2="1458.80" stroke="#000" stroke-width="2.3" stroke-linecap="round"/>
<line x1="1081.95" y1="1451.80" x2="1081.95" y2="1458.80" stroke="#000" stroke-width="2.3" stroke-linecap="round"/>
<line x1="1163.80" y1="1451.80" x2="1163.80" y2="1458.80" stroke="#000" stroke-width="2.3" stroke-linecap="round"/>
<line x1="1245.65" y1="1451.80" x2="1245.65" y2="1458.80" stroke="#000" stroke-width="2.3" stroke-linecap="round"/>
<line x1="1327.50" y1="1451.80" x2="1327.50" y2="1458.80" stroke="#000" stroke-width="2.3" stroke-linecap="round"/>
<line x1="877.32" y1="1451.80" x2="877.32" y2="1455.30" stroke="#000" stroke-width="2.3" stroke-linecap="round"/>
<line x1="959.17" y1="1451.80" x2="959.17" y2="1455.30" stroke="#000" stroke-width="2.3" stroke-linecap="round"/>
<line x1="1041.03" y1="1451.80" x2="1041.03" y2="1455.30" stroke="#000" stroke-width="2.3" stroke-linecap="round"/>
<line x1="1122.88" y1="1451.80" x2="1122.88" y2="1455.30" stroke="#000" stroke-width="2.3" stroke-linecap="round"/>
<line x1="1204.72" y1="1451.80" x2="1204.72" y2="1455.30" stroke="#000" stroke-width="2.3" stroke-linecap="round"/>
<line x1="1286.57" y1="1451.80" x2="1286.57" y2="1455.30" stroke="#000" stroke-width="2.3" stroke-linecap="round"/>
<text x="828.20" y="1492.90" font-size="29.5"><tspan fill="#000">&#8199;</tspan></text>
<path d="M363 0 L268 0 L268 495 L105 495 L105 566 C170 570 215 585 245 625 C262 648 272 672 276 695 L363 695 Z" transform="translate(828.20,1492.90) scale(0.02950,-0.02950)" fill="#000"/>
<text x="910.05" y="1492.90" font-size="29.5"><tspan fill="#000">2</tspan></text>
<text x="991.90" y="1492.90" font-size="29.5"><tspan fill="#000">3</tspan></text>
<text x="1073.75" y="1492.90" font-size="29.5"><tspan fill="#000">4</tspan></text>
<text x="1155.60" y="1492.90" font-size="29.5"><tspan fill="#000">5</tspan></text>
<text x="1237.45" y="1492.90" font-size="29.5"><tspan fill="#000">6</tspan></text>
<text x="1319.30" y="1492.90" font-size="29.5"><tspan fill="#000">7</tspan></text>
<text x="799.99" y="1438.80" font-size="29.5"><tspan fill="#000">0</tspan></text>
<text x="783.59" y="1393.93" font-size="29.5"><tspan fill="#000">2</tspan><tspan fill="#000">0</tspan></text>
<text x="783.59" y="1349.06" font-size="29.5"><tspan fill="#000">4</tspan><tspan fill="#000">0</tspan></text>
<text x="783.59" y="1304.18" font-size="29.5"><tspan fill="#000">6</tspan><tspan fill="#000">0</tspan></text>
<text x="783.59" y="1259.31" font-size="29.5"><tspan fill="#000">8</tspan><tspan fill="#000">0</tspan></text>
<text x="767.18" y="1214.44" font-size="29.5"><tspan fill="#000">&#8199;</tspan><tspan fill="#000">0</tspan><tspan fill="#000">0</tspan></text>
<path d="M363 0 L268 0 L268 495 L105 495 L105 566 C170 570 215 585 245 625 C262 648 272 672 276 695 L363 695 Z" transform="translate(767.18,1214.44) scale(0.02950,-0.02950)" fill="#000"/>
<text x="767.18" y="1169.57" font-size="29.5"><tspan fill="#000">&#8199;</tspan><tspan fill="#000">2</tspan><tspan fill="#000">0</tspan></text>
<path d="M363 0 L268 0 L268 495 L105 495 L105 566 C170 570 215 585 245 625 C262 648 272 672 276 695 L363 695 Z" transform="translate(767.18,1169.57) scale(0.02950,-0.02950)" fill="#000"/>
<text x="767.18" y="1124.70" font-size="29.5"><tspan fill="#000">&#8199;</tspan><tspan fill="#000">4</tspan><tspan fill="#000">0</tspan></text>
<path d="M363 0 L268 0 L268 495 L105 495 L105 566 C170 570 215 585 245 625 C262 648 272 672 276 695 L363 695 Z" transform="translate(767.18,1124.70) scale(0.02950,-0.02950)" fill="#000"/>
<text x="976.25" y="1541.20" font-size="30" fill="#000" font-weight="normal" font-style="normal" font-family="Liberation Sans" textLength="179.58" lengthAdjust="spacingAndGlyphs" >Density (g cm</text>
<text x="1154.78" y="1529.30" font-size="21.5" fill="#000" font-weight="normal" font-style="normal" font-family="Liberation Sans" textLength="22.55" lengthAdjust="spacingAndGlyphs" >−3</text>
<text x="1178.87" y="1541.20" font-size="30" fill="#000" font-weight="normal" font-style="normal" font-family="Liberation Sans" textLength="9.28" lengthAdjust="spacingAndGlyphs" >)</text>
<text transform="translate(744.00,1417.62) rotate(-90)" x="0" y="0" font-size="30" fill="#01421a" font-weight="normal" font-style="normal" font-family="Liberation Sans" textLength="191.96" lengthAdjust="spacingAndGlyphs" >Phos. lifetime (</text>
<text transform="translate(744.00,1225.82) rotate(-90)" x="0" y="0" font-size="30" fill="#01421a" font-weight="normal" font-style="normal" font-family="Liberation Serif" textLength="13.24" lengthAdjust="spacingAndGlyphs" >τ</text>
<text transform="translate(731.20,1211.07) rotate(-90)" x="0" y="0" font-size="21.5" fill="#01421a" font-weight="normal" font-style="italic" font-family="Liberation Sans" textLength="14.77" lengthAdjust="spacingAndGlyphs" >P</text>
<text transform="translate(744.00,1194.14) rotate(-90)" x="0" y="0" font-size="30" fill="#01421a" font-weight="normal" font-style="normal" font-family="Liberation Sans" textLength="66.81" lengthAdjust="spacingAndGlyphs" >)(ms)</text>
<rect x="881.15" y="1131.85" width="11.7" height="11.7" fill="#000"/>
<rect x="964.85" y="1143.15" width="11.7" height="11.7" fill="#000"/>
<rect x="970.55" y="1137.75" width="11.7" height="11.7" fill="#000"/>
<rect x="1058.15" y="1175.85" width="11.7" height="11.7" fill="#000"/>
<rect x="1100.85" y="1261.25" width="11.7" height="11.7" fill="#000"/>
<rect x="1280.55" y="1422.65" width="11.7" height="11.7" fill="#000"/>
<path d="M935.30 1131.50 L944.10 1146.50 L926.50 1146.50 Z" fill="#0000ff"/>
<path d="M987.80 1183.10 L996.60 1198.10 L979.00 1198.10 Z" fill="#0000ff"/>
<path d="M1036.90 1234.30 L1045.70 1249.30 L1028.10 1249.30 Z" fill="#0000ff"/>
<circle cx="944.50" cy="1157.70" r="6.45" fill="#ff0000"/>
<circle cx="1077.80" cy="1226.40" r="6.45" fill="#ff0000"/>
<circle cx="1121.40" cy="1264.40" r="6.45" fill="#ff0000"/>
<text x="-1.7" y="30.9" font-size="42" font-weight="bold">a</text>
<text x="694.3" y="30.9" font-size="42" font-weight="bold">b</text>
<text x="-1.3" y="558.0" font-size="42" font-weight="bold">c</text>
<text x="694.4" y="557.9" font-size="42" font-weight="bold">d</text>
<text x="-1.6" y="1095.8" font-size="42" font-weight="bold">e</text>
<text x="694.4" y="1095.7" font-size="42" font-weight="bold">f</text>
</svg></body></html>
